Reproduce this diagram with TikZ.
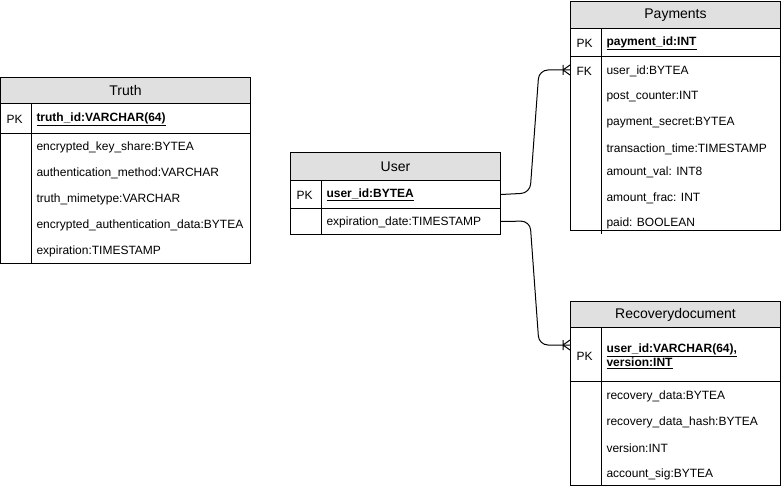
\documentclass[tikz,border=0pt]{standalone}
\usepackage{fontspec}
\setmainfont{Liberation Sans}
\usepackage{tikz}

\definecolor{headgray}{RGB}{224,224,224}
\newcommand\rowsize{\fontsize{12}{14}\selectfont}
\newcommand\pkfield[1]{\underline{\textbf{#1}}}

\tikzset{
  tblhead/.style={draw, fill=headgray, anchor=north west, inner sep=0pt,
    minimum width=#1, font=\fontsize{14}{16}\selectfont},
  tblrow/.style={draw, anchor=north west, inner sep=0pt, minimum width=#1},
  field/.style={anchor=west, inner sep=0pt, yshift=-1pt, font=\rowsize},
  conn/.style={rounded corners=9pt},
}

\begin{document}
\begin{tikzpicture}[x=1pt, y=-1pt, line width=1pt]
      \useasboundingbox (0,0) rectangle (781,489);
      % Truth
      \node[tblhead=250pt, minimum height=26pt] (truth) at (0,77) {Truth};
      \node[tblrow=250pt, minimum height=30pt] (truth-pk) at (0,103) {};
      \node[tblrow=250pt, minimum height=130pt] (truth-body) at (0,133) {};
      \draw (31,103) -- (31,263);
      \node[field] (truth-pk-key) at (6,118) {PK};
      \node[field] (truth-id) at (36,118) {\pkfield{truth\_id:VARCHAR(64)}};
      \node[field] (truth-f1) at (36,146) {encrypted\_key\_share:BYTEA};
      \node[field] (truth-f2) at (36,172) {authentication\_method:VARCHAR};
      \node[field] (truth-f3) at (36,198) {truth\_mimetype:VARCHAR};
      \node[field] (truth-f4) at (36,224) {encrypted\_authentication\_data:BYTEA};
      \node[field] (truth-f5) at (36,250) {expiration:TIMESTAMP};
      % User
      \node[tblhead=210pt, minimum height=28pt] (user) at (290,152) {User};
      \node[tblrow=210pt, minimum height=28pt] (user-pk) at (290,180) {};
      \node[tblrow=210pt, minimum height=26pt] (user-exp) at (290,208) {};
      \draw (321,180) -- (321,234);
      \node[field] (user-pk-key) at (296,194) {PK};
      \node[field] (user-id) at (326,194) {\pkfield{user\_id:BYTEA}};
      \node[field] (user-f1) at (326,221) {expiration\_date:TIMESTAMP};
      % Payments
      \node[tblhead=210pt, minimum height=27pt] (pay) at (570,1) {Payments};
      \node[tblrow=210pt, minimum height=28pt] (pay-pk) at (570,28) {};
      \node[tblrow=210pt, minimum height=174pt] (pay-body) at (570,56) {};
      \draw (601,28) -- (601,234);
      \node[field] (pay-pk-key) at (576,42) {PK};
      \node[field] (pay-id) at (606,42) {\pkfield{payment\_id:INT}};
      \node[field] (pay-fk-key) at (576,70) {FK};
      \node[field] (pay-f1) at (606,70) {user\_id:BYTEA};
      \node[field] (pay-f2) at (606,96) {post\_counter:INT};
      \node[field] (pay-f3) at (606,122) {payment\_secret:BYTEA};
      \node[field] (pay-f4) at (606,148) {transaction\_time:TIMESTAMP};
      \node[field] (pay-f5) at (606,171) {amount\_val: INT8};
      \node[field] (pay-f6) at (606,197) {amount\_frac: INT};
      \node[field] (pay-f7) at (606,222) {paid: BOOLEAN};
      % Recoverydocument
      \node[tblhead=210pt, minimum height=26pt] (rec) at (570,301) {Recoverydocument};
      \node[tblrow=210pt, minimum height=54pt] (rec-pk) at (570,327) {};
      \node[tblrow=210pt, minimum height=104pt] (rec-body) at (570,381) {};
      \draw (601,327) -- (601,485);
      \node[field] (rec-pk-key) at (576,355) {PK};
      \node[field, align=left] (rec-id) at (606,355)
        {\pkfield{user\_id:VARCHAR(64),}\\\pkfield{version:INT}};
      \node[field] (rec-f1) at (606,395) {recovery\_data:BYTEA};
      \node[field] (rec-f2) at (606,421) {recovery\_data\_hash:BYTEA};
      \node[field] (rec-f3) at (606,447) {version:INT};
      \node[field] (rec-f4) at (606,473) {account\_sig:BYTEA};
      % relations
      \coordinate (pay-end) at (570,70);
      \coordinate (rec-end) at (570,345);
      \draw[conn] (user-pk.east) -- (530,193) -- (539,70) -- (pay-end);
      \draw[conn] (user-exp.east) -- (530,221) -- (539,345) -- (rec-end);
      % one-or-many ends
      \draw ([xshift=-7pt]pay-end) -- ([yshift=5pt]pay-end)
            ([xshift=-7pt]pay-end) -- ([yshift=-5pt]pay-end)
            ([xshift=-7pt,yshift=5pt]pay-end) -- ([xshift=-7pt,yshift=-5pt]pay-end);
      \draw ([xshift=-7pt]rec-end) -- ([yshift=5pt]rec-end)
            ([xshift=-7pt]rec-end) -- ([yshift=-5pt]rec-end)
            ([xshift=-7pt,yshift=5pt]rec-end) -- ([xshift=-7pt,yshift=-5pt]rec-end);
    \end{tikzpicture}
\end{document}
